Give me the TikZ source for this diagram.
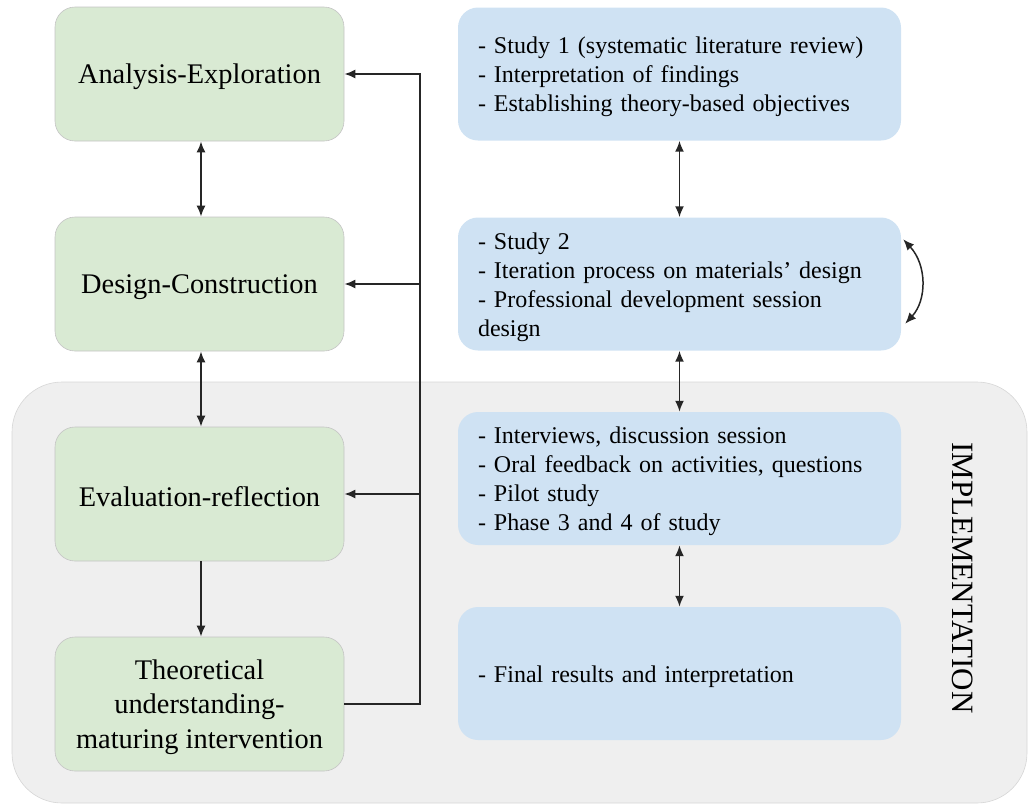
\documentclass[tikz,border=0pt]{standalone}
\usepackage{fontspec}
\setmainfont{Liberation Serif}
\usetikzlibrary{arrows.meta,calc}
\definecolor{phasegreen}{HTML}{D9EAD3}
\definecolor{studyblue}{HTML}{CFE2F3}
\definecolor{implgray}{HTML}{EFEFEF}
\definecolor{edgegray}{HTML}{C4C4C4}
\definecolor{linegray}{HTML}{262626}
\begin{document}
\begin{tikzpicture}[x=1pt,y=-1pt,
  phase/.style={fill=phasegreen,draw=edgegray,line width=0.6pt,rounded corners=20pt,
    minimum width=289pt,minimum height=134pt,inner sep=0pt},
  phasetext/.style={align=center,inner sep=0pt,font=\fontsize{28.4}{34.5}\selectfont},
  study/.style={fill=studyblue,rounded corners=20pt,
    minimum width=443pt,minimum height=133pt,inner sep=0pt},
  studytext/.style={inner sep=0pt,text width=403pt,align=left,
    font=\fontsize{24}{29}\selectfont},
  link/.style={draw=linegray,line width=1.9pt,-{Latex[length=11pt,width=9pt]}},
  dlink/.style={draw=linegray,line width=1.9pt,{Latex[length=11pt,width=9pt]}-{Latex[length=11pt,width=9pt]}}]
  \useasboundingbox (0,0) rectangle (1028,804);
  % implementation region
  \node[fill=implgray,draw=edgegray!70,line width=0.6pt,rounded corners=50pt,
    minimum width=1015pt,minimum height=421pt,inner sep=0pt] (impl) at (519.5,592.5) {};
  \node[rotate=-90,font=\fontsize{31}{36}\selectfont] (impllabel) at (963,578) {IMPLEMENTATION};
  % phases of the cycle
  \node[phase] (g1) at (199.5,74) {};
  \node[phase] (g2) at (199.5,284) {};
  \node[phase] (g3) at (199.5,494) {};
  \node[phase] (g4) at (199.5,704) {};
  \node[phasetext] (g1t) at ([yshift=-3pt]g1.center) {Analysis-Exploration};
  \node[phasetext] (g2t) at ([yshift=-3pt]g2.center) {Design-Construction};
  \node[phasetext] (g3t) at ([yshift=-3pt]g3.center) {Evaluation-reflection};
  \node[phasetext] (g4t) at ([yshift=-3pt]g4.center) {Theoretical\\understanding-\\maturing intervention};
  % studies and activities
  \node[study] (b1) at (679.5,74) {};
  \node[study] (b2) at (679.5,284) {};
  \node[study] (b3) at (679.5,478.5) {};
  \node[study] (b4) at (679.5,673.5) {};
  \node[studytext] (b1t) at ([yshift=-3pt]b1.center) {- Study 1 (systematic literature review)\\- Interpretation of findings\\- Establishing theory-based objectives};
  \node[studytext] (b2t) at ([yshift=-3pt]b2.center) {- Study 2\\- Iteration process on materials’ design\\- Professional development session\\design};
  \node[studytext] (b3t) at ([yshift=-3pt]b3.center) {- Interviews, discussion session\\- Oral feedback on activities, questions\\- Pilot study\\- Phase 3 and 4 of study};
  \node[studytext] (b4t) at ([yshift=-3pt]b4.center) {- Final results and interpretation};
  % links between phases
  \draw[dlink] ([xshift=1.5pt]g1.south) -- ([xshift=1.5pt]g2.north);
  \draw[dlink] ([xshift=1.5pt]g2.south) -- ([xshift=1.5pt]g3.north);
  \draw[link] ([xshift=1.5pt]g3.south) -- ([xshift=1.5pt]g4.north);
  % feedback loop
  \coordinate (fb) at (420,704);
  \draw[link] (g4.east) -- (fb) |- (g1.east);
  \draw[link] (fb |- g2.east) -- (g2.east);
  \draw[link] (fb |- g3.east) -- (g3.east);
  % links between studies
  \draw[dlink] (b1.south) -- (b2.north);
  \draw[dlink] (b2.south) -- (b3.north);
  \draw[dlink] (b3.south) -- (b4.north);
  % iteration on study 2
  \coordinate (itop) at ($(b2.north east)+(2,22)$);
  \coordinate (ibot) at ($(b2.south east)+(4,-27)$);
  \draw[dlink,line width=1.5pt] (itop) .. controls (927,265) and (927,300) .. (ibot);
\end{tikzpicture}
\end{document}
